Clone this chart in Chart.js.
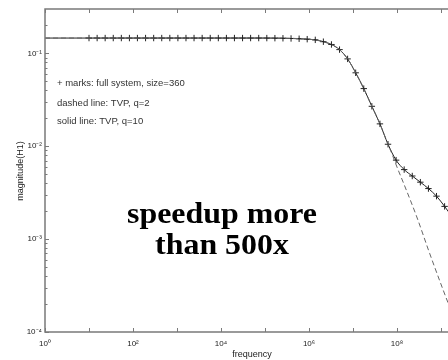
<!DOCTYPE html>
<html>
<head>
<meta charset="utf-8">
<script src="https://cdn.jsdelivr.net/npm/chart.js@4/dist/chart.umd.min.js"></script>
<style>
html,body{margin:0;padding:0;background:#fff;overflow:hidden;width:448px;height:360px;}
#wrap{position:absolute;left:0;top:0;width:490px;height:360px;}
</style>
</head>
<body>
<div id="wrap"><canvas id="c" width="490" height="360"></canvas></div>
<script>
// ---- data ----
const markFreq = [1.00e1,1.53e1,2.33e1,3.56e1,5.43e1,8.29e1,1.26e2,1.93e2,2.95e2,4.50e2,
  6.87e2,1.048e3,1.60e3,2.44e3,3.73e3,5.69e3,8.69e3,1.326e4,2.02e4,3.09e4,
  4.71e4,7.20e4,1.10e5,1.68e5,2.56e5,3.91e5,5.96e5,9.10e5,1.389e6,2.121e6,
  3.237e6,4.942e6,7.543e6,1.151e7,1.758e7,2.683e7,4.095e7,6.251e7,9.541e7,1.456e8,
  2.223e8,3.393e8,5.179e8,7.906e8,1.207e9,1.842e9];
const fullSystem = [0.146,0.146,0.146,0.146,0.146,0.146,0.146,0.146,0.146,0.146,
  0.146,0.146,0.146,0.146,0.146,0.146,0.146,0.146,0.146,0.146,
  0.146,0.146,0.1459,0.1456,0.1452,0.1445,0.1435,0.1420,0.1396,0.1334,
  0.1245,0.1096,0.0871,0.0617,0.0417,0.0269,0.0174,0.0105,0.00708,0.00560,
  0.00478,0.00410,0.00350,0.00290,0.00225,0.00170];
const q10Freq = [1e0,1e1,1e3,1e5,1.68e5,2.56e5,3.91e5,5.96e5,9.10e5,1.389e6,2.121e6,
  3.237e6,4.942e6,7.543e6,1.151e7,1.758e7,2.683e7,4.095e7,6.251e7,9.541e7,1.456e8,
  2.223e8,3.393e8,5.179e8,7.906e8,1.207e9,1.842e9];
const tvpQ10 = [0.146,0.146,0.146,0.146,0.1456,0.1452,0.1445,0.1435,0.1420,0.1396,0.1334,
  0.1245,0.1096,0.0871,0.0617,0.0417,0.0269,0.0174,0.0105,0.00708,0.00560,
  0.00478,0.00410,0.00350,0.00290,0.00225,0.00170];
const q2Freq = [1e0,1e3,1e5,1e6,2.121e6,3.237e6,4.942e6,7.543e6,1.151e7,1.758e7,2.683e7,
  4.095e7,6.251e7,7.59e7,1.0e8,1.41e8,2.82e8,5.50e8,1.12e9,1.60e9];
const tvpQ2 = [0.146,0.146,0.1459,0.1418,0.1334,0.1245,0.1096,0.0871,0.0617,0.0417,0.0269,
  0.0174,0.0105,0.0084,0.00596,0.0040,0.00173,0.000706,0.000283,0.000182];

const xLabelTicks = [1e0,1e2,1e4,1e6,1e8];
const xTickMarks = [1e0,1e1,1e2,1e3,1e4,1e5,1e6,1e7,1e8,1e9,1e10];
const yLabelTicks = [1e-4,1e-3,1e-2,1e-1];
const sup = {'0':'⁰','1':'¹','2':'²','3':'³','4':'⁴','5':'⁵','6':'⁶','7':'⁷','8':'⁸','9':'⁹','-':'⁻'};
const notes = ['+ marks: full system, size=360','dashed line: TVP, q=2','solid line: TVP, q=10'];
const bigText = ['speedup more','than 500x'];
const xTitle = 'frequency';
const yTitle = 'magnitude(H1)';

function expLabel(v){
  const e = Math.round(Math.log10(v)).toString();
  return '10' + e.split('').map(c=>sup[c]).join('');
}

const frame = {
  id:'frame',
  afterDatasetsDraw(chart){
    const {ctx} = chart;
    ctx.save();
    ctx.fillStyle='#333';
    ctx.font='9.5px "Liberation Sans", Arial, sans-serif';
    ctx.textBaseline='middle'; ctx.textAlign='left';
    const ny=[83,103,121];
    notes.forEach((t,i)=>ctx.fillText(t, 57, ny[i]));
    ctx.fillStyle='#fff';
    ctx.fillRect(100,183,242,85);
    ctx.fillStyle='#000';
    ctx.font='bold 29px "Liberation Serif", "Times New Roman", serif';
    ctx.textAlign='center'; ctx.textBaseline='alphabetic';
    ctx.save(); ctx.translate(222,0); ctx.scale(1.1,1);
    ctx.fillText(bigText[0], 0, 223);
    ctx.fillText(bigText[1], 0, 254);
    ctx.restore();
    ctx.restore();
  },
  afterDraw(chart){
    const {ctx, chartArea:a, scales:{x,y}} = chart;
    ctx.save();
    ctx.strokeStyle='#7a7a7a'; ctx.lineWidth=1.5;
    ctx.beginPath();
    ctx.moveTo(a.left,a.top); ctx.lineTo(a.right,a.top); ctx.lineTo(a.right,a.bottom);
    ctx.lineTo(a.left,a.bottom); ctx.closePath(); ctx.stroke();
    ctx.lineWidth=1;
    ctx.beginPath();
    xTickMarks.forEach(v=>{
      const px=Math.round(x.getPixelForValue(v))+0.5;
      ctx.moveTo(px,a.bottom); ctx.lineTo(px,a.bottom-4);
      ctx.moveTo(px,a.top); ctx.lineTo(px,a.top+4);
    });
    for(let e=-4;e<0;e++){
      for(let k=1;k<10;k++){
        const v=k*Math.pow(10,e);
        if(v>y.max) break;
        const py=Math.round(y.getPixelForValue(v))+0.5;
        const len = k===1?4:2.5;
        ctx.moveTo(a.left,py); ctx.lineTo(a.left+len,py);
        ctx.moveTo(a.right,py); ctx.lineTo(a.right-len,py);
      }
    }
    ctx.stroke();
    ctx.fillStyle='#222';
    ctx.font='9px "Liberation Sans", Arial, sans-serif';
    ctx.textAlign='center'; ctx.textBaseline='middle';
    ctx.fillText(xTitle, 252, 355);
    ctx.translate(21,171); ctx.rotate(-Math.PI/2);
    ctx.fillText(yTitle, 0, 0);
    ctx.restore();
  }
};

new Chart(document.getElementById('c'), {
  type:'line',
  data:{
    datasets:[
      {label:'TVP q=2', data:q2Freq.map((f,i)=>({x:f,y:tvpQ2[i]})),
       borderColor:'#666', borderWidth:1, borderDash:[5,3], pointRadius:0,
       cubicInterpolationMode:'monotone', fill:false},
      {label:'TVP q=10', data:q10Freq.map((f,i)=>({x:f,y:tvpQ10[i]})),
       borderColor:'#222', borderWidth:1, pointRadius:0,
       cubicInterpolationMode:'monotone', fill:false},
      {label:'full system', data:markFreq.map((f,i)=>({x:f,y:fullSystem[i]})),
       showLine:false, pointStyle:'cross', pointRadius:3.2, borderColor:'#222',
       pointBorderWidth:1, backgroundColor:'#222'}
    ]
  },
  options:{
    responsive:false, animation:false,
    layout:{padding:{top:9,right:1,left:0,bottom:0}},
    plugins:{legend:{display:false}, tooltip:{enabled:false}},
    scales:{
      x:{type:'logarithmic', min:1, max:1e10,
        grid:{display:false, drawTicks:false}, border:{display:false},
        afterBuildTicks(s){ s.ticks = xLabelTicks.map(v=>({value:v})); },
        afterFit(s){ s.height = 28; },
        ticks:{callback:(v)=>expLabel(v), maxRotation:0, autoSkip:false, padding:7,
          color:'#222', font:{family:'"Liberation Sans", Arial, sans-serif', size:8}}
      },
      y:{type:'logarithmic', min:1e-4, max:0.3,
        grid:{display:false, drawTicks:false}, border:{display:false},
        afterBuildTicks(s){ s.ticks = yLabelTicks.map(v=>({value:v})); },
        afterFit(s){ s.width = 45; },
        ticks:{callback:(v)=>expLabel(v), autoSkip:false, padding:3,
          color:'#222', font:{family:'"Liberation Sans", Arial, sans-serif', size:8}}
      }
    }
  },
  plugins:[frame]
});
</script>
</body>
</html>
